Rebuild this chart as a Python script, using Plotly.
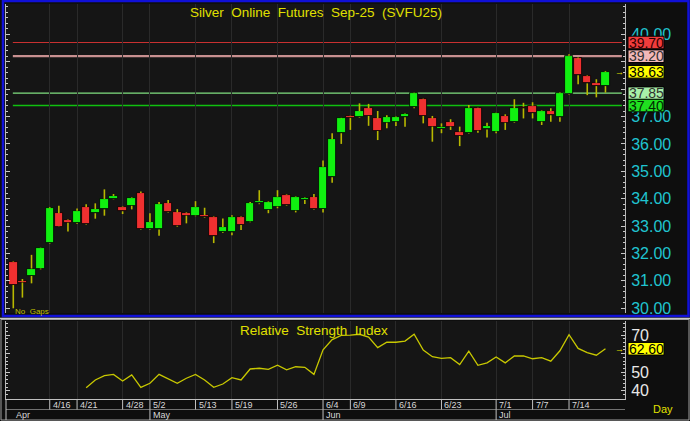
import plotly.graph_objects as go

W, H = 690, 421

# ---------------- data ----------------
open_ = [31.70, 30.98, 31.18, 31.45, 32.37, 33.47, 33.22, 33.10, 33.70, 33.47,
         33.61, 33.98, 33.70, 33.74, 34.21, 32.88, 32.88, 33.83, 33.50, 33.47,
         33.38, 33.40, 33.33, 32.78, 32.77, 33.34, 33.16, 33.83, 33.59, 33.71,
         34.14, 33.56, 33.95, 34.05, 33.62, 34.78, 36.39, 37.01, 36.97, 37.30,
         36.93, 36.77, 36.81, 36.97, 37.34, 37.63, 36.93, 36.54, 36.79, 36.45,
         36.39, 37.30, 36.53, 36.45, 37.02, 36.79, 37.36, 37.39, 36.81, 37.20,
         36.97, 37.81, 39.12, 38.48, 38.23, 38.11]
high = [31.72, 31.07, 31.95, 32.22, 33.69, 33.74, 33.24, 33.64, 33.80, 33.83,
        34.34, 34.17, 33.72, 34.06, 34.26, 33.47, 33.88, 33.95, 33.62, 33.50,
        33.91, 33.67, 33.35, 33.28, 33.40, 33.36, 33.88, 34.31, 33.90, 34.31,
        34.16, 34.08, 34.05, 34.17, 35.39, 36.39, 36.95, 37.03, 37.48, 37.46,
        37.20, 37.05, 37.00, 37.11, 37.87, 37.65, 37.02, 36.75, 36.90, 36.63,
        37.42, 37.32, 36.77, 37.14, 37.08, 37.63, 37.50, 37.52, 37.23, 37.30,
        37.88, 39.27, 39.15, 38.50, 38.36, 38.66]
low = [30.00, 30.39, 30.91, 31.42, 32.35, 32.97, 32.80, 33.08, 33.06, 33.27,
       33.38, 33.97, 33.44, 33.61, 32.86, 32.86, 32.65, 33.50, 32.98, 33.10,
       33.36, 33.30, 32.38, 32.76, 32.67, 32.86, 33.14, 33.80, 33.47, 33.65,
       33.75, 33.50, 33.81, 33.59, 33.50, 34.58, 36.00, 36.51, 36.95, 36.66,
       36.14, 36.57, 36.65, 36.63, 37.30, 36.75, 36.08, 36.39, 36.51, 35.92,
       36.37, 36.41, 36.23, 36.39, 36.51, 36.77, 36.93, 36.93, 36.69, 36.81,
       36.81, 37.79, 38.18, 37.78, 37.70, 37.87]
close = [30.85, 30.94, 31.45, 32.21, 33.65, 32.98, 33.12, 33.56, 33.08, 33.62,
         33.99, 34.10, 33.54, 34.04, 32.88, 33.15, 33.81, 33.51, 33.01, 33.38,
         33.70, 33.32, 32.63, 32.97, 33.34, 33.04, 33.83, 33.92, 33.87, 34.07,
         33.77, 34.06, 34.03, 33.61, 35.17, 36.17, 36.93, 36.95, 37.19, 37.02,
         36.47, 36.97, 36.97, 37.09, 37.85, 37.02, 36.63, 36.63, 36.63, 36.29,
         37.32, 36.48, 36.65, 37.12, 36.77, 37.30, 37.30, 37.12, 37.21, 37.05,
         37.85, 39.22, 38.51, 38.21, 38.11, 38.63]

rsi_start = 8
rsi = [41.6, 45.8, 48.1, 48.8, 45.2, 48.5, 41.8, 44.0, 48.8, 46.3,
       44.0, 46.7, 48.8, 45.8, 41.8, 43.6, 47.0, 45.8, 51.7, 52.1,
       51.5, 53.7, 51.2, 52.9, 52.6, 48.8, 62.0, 67.5, 69.8, 69.9,
       70.4, 68.9, 63.2, 66.1, 66.1, 66.7, 70.4, 61.9, 58.3, 57.4,
       57.8, 54.1, 61.3, 53.7, 55.0, 58.2, 55.0, 58.7, 58.7, 57.2,
       57.8, 55.9, 61.5, 70.2, 62.8, 60.5, 59.1, 62.6]

level_values = [39.70, 39.20, 37.85, 37.40]
last_price = 38.63
last_rsi = 62.60

date_idx = [4, 7, 12, 15, 20, 24, 29, 34, 37, 42, 47, 53, 57, 61]
date_labels = ['4/16', '4/21', '4/28', '5/2', '5/13', '5/19', '5/26',
               '6/4', '6/9', '6/16', '6/23', '7/1', '7/7', '7/14']
month_idx = [0, 15, 34, 53]
month_labels = ['Apr', 'May', 'Jun', 'Jul']
price_ticks = [30, 31, 32, 33, 34, 35, 36, 37, 38, 39, 40]
price_tick_text = ['30.00', '31.00', '32.00', '33.00', '34.00', '35.00', '36.00',
                   '37.00', '', '', '40.00']   # 38/39 hidden behind level boxes
price_grid = [30, 32, 34, 36, 38, 40]
rsi_ticks = [40, 50, 60, 70]
rsi_tick_text = ['40', '50', '', '70']         # 60 hidden behind last-value box
rsi_grid = [60]

title_text = 'Silver\u00a0 Online\u00a0 Futures\u00a0 Sep-25\u00a0 (SVFU25)'
rsi_title = 'Relative\u00a0 Strength\u00a0 Index'

# ---------------- styles ----------------
FONT = 'Liberation Sans, Arial, sans-serif'
UP = '#10f010'
DOWN = '#f03030'
WICK = '#b8b800'
GRID = '#2a2a2a'
CYAN = '#20c4d0'
YEL = '#e0e000'
level_styles = [
    dict(line='#c83030', width=1.2, bg='#f03c3c', fg='#300000'),
    dict(line='#c89090', width=2.2, bg='#f2b8b8', fg='#303030'),
    dict(line='#80e080', width=1.2, bg='#a8f0a8', fg='#303030'),
    dict(line='#10c010', width=1.6, bg='#20e020', fg='#002800'),
]
PRICE_PX = 27.4      # pixels per price unit
RSI_PX = 1.857       # pixels per RSI unit
BOX_H = 12.6         # label box height in pixels


def px(x):
    return x / W


def py(y):
    return 1 - y / H


x = list(range(len(open_)))
X_RANGE = [-0.801, 67.145]

# wicks (drawn outside the bodies)
wx, wy = [], []
for i, (o, h, l, c) in enumerate(zip(open_, high, low, close)):
    top, bot = max(o, c), min(o, c)
    wx += [i, i, None, i, i, None]
    wy += [bot, l, None, top, h, None]

base = [min(o, c) for o, c in zip(open_, close)]
body = [max(abs(c - o), 0.03) for o, c in zip(open_, close)]
colors = [UP if c >= o else DOWN for o, c in zip(open_, close)]

fig = go.Figure()
fig.add_trace(go.Scatter(x=wx, y=wy, mode='lines', line=dict(color=WICK, width=1.6),
                         hoverinfo='skip', showlegend=False, xaxis='x', yaxis='y'))
fig.add_trace(go.Bar(x=x, y=body, base=base, width=0.93,
                     marker=dict(color=colors, line=dict(color='#000000', width=0.8)),
                     showlegend=False, xaxis='x', yaxis='y'))
fig.add_trace(go.Scatter(x=list(range(rsi_start, rsi_start + len(rsi))), y=rsi,
                         mode='lines', line=dict(color='#c8c800', width=1.3),
                         showlegend=False, xaxis='x2', yaxis='y2'))

shapes = []
# level lines
for v, st in zip(level_values, level_styles):
    shapes.append(dict(type='line', xref='x', yref='y', x0=-0.05, x1=66.8, y0=v, y1=v,
                       line=dict(color=st['line'], width=st['width']), layer='below'))
# frames
shapes.append(dict(type='rect', xref='paper', yref='paper', x0=px(3), x1=px(688.5),
                   y0=py(316), y1=py(1), line=dict(color='#1010d8', width=2.5)))
shapes.append(dict(type='line', xref='paper', yref='paper', x0=px(0), x1=px(690),
                   y0=py(318.5), y1=py(318.5), line=dict(color='#c8c8c8', width=1.5)))
shapes.append(dict(type='rect', xref='paper', yref='paper', x0=px(1), x1=px(689),
                   y0=py(420), y1=py(319.5), line=dict(color='#a0a0a0', width=1)))
# date rows
shapes.append(dict(type='line', xref='paper', yref='paper', x0=px(6), x1=px(625),
                   y0=py(409.5), y1=py(409.5), line=dict(color='#707070', width=1)))
for d in date_idx:
    shapes.append(dict(type='line', xref='x', yref='paper', x0=d, x1=d,
                       y0=py(409.5), y1=py(399), line=dict(color='#c0c0c0', width=1)))
for m in month_idx[1:]:
    shapes.append(dict(type='line', xref='x', yref='paper', x0=m, x1=m,
                       y0=py(420), y1=py(409.5), line=dict(color='#c0c0c0', width=1)))
shapes.append(dict(type='line', xref='paper', yref='paper', x0=px(6), x1=px(6),
                   y0=py(420), y1=py(399), line=dict(color='#c0c0c0', width=1)))


def value_box(v, yref, unit_px, bg):
    half = BOX_H / 2 / unit_px
    return dict(type='rect', xref='paper', x0=px(628), x1=px(664), yref=yref,
                y0=v - half, y1=v + half, fillcolor=bg,
                line=dict(color='#000000', width=1), layer='above')


for v, st in zip(level_values, level_styles):
    shapes.append(value_box(v, 'y', PRICE_PX, st['bg']))
shapes.append(value_box(last_price, 'y', PRICE_PX, '#ffff00'))
shapes.append(value_box(last_rsi, 'y2', RSI_PX, '#ffff00'))


def note(text, xref, x, yref, y, size, color, xanchor='center', **kw):
    d = dict(text=text, xref=xref, x=x, yref=yref, y=y, xanchor=xanchor, yanchor='middle',
             showarrow=False, font=dict(family=FONT, size=size, color=color))
    d.update(kw)
    return d


ann = []
ann.append(note(title_text, 'paper', px(315.5), 'paper', py(13), 13.5, YEL))
ann.append(note(rsi_title, 'paper', px(314), 'paper', py(330), 13.5, YEL))
ann.append(note('No\u00a0 Gaps', 'paper', px(13), 'paper', py(311.5), 8, '#c0c000', 'left'))
ann.append(note('Day', 'paper', px(663), 'paper', py(409), 11, YEL))
for v, st in zip(level_values, level_styles):
    ann.append(note('%.2f' % v, 'paper', px(646), 'y', v, 14, st['fg'], height=12, width=35))
ann.append(note('%.2f' % last_price, 'paper', px(646), 'y', last_price, 14, '#000000',
                height=12, width=35))
ann.append(note('→', 'paper', px(619), 'y', last_price, 9, YEL))
ann.append(note('%.2f' % last_rsi, 'paper', px(646), 'y2', last_rsi, 14, '#000000',
                height=12, width=35))
ann.append(note('→', 'paper', px(619), 'y2', last_rsi, 9, YEL))
for d, lab in zip(date_idx, date_labels):
    ann.append(note(lab, 'x', d, 'paper', py(404.5), 9, '#d8d8d8', 'left', xshift=1))
for m, lab in zip(month_idx, month_labels):
    ann.append(note(lab, 'x', m, 'paper', py(415), 9, '#d8d8d8', 'left', xshift=1))

common_x = dict(range=X_RANGE, domain=[px(6), px(625)], tickvals=date_idx,
                showticklabels=False, ticks='', showgrid=True, gridcolor=GRID,
                gridwidth=1, zeroline=False, fixedrange=True)

fig.update_layout(
    width=W, height=H, margin=dict(l=0, r=0, t=0, b=0, pad=0),
    paper_bgcolor='#0e0e0e', plot_bgcolor='#151515',
    font=dict(family=FONT), showlegend=False, bargap=0,
    xaxis=dict(anchor='y', showline=False, **common_x),
    xaxis2=dict(anchor='y2', matches='x', showline=True, linecolor='#c0c0c0',
                linewidth=1, **common_x),
    yaxis=dict(domain=[py(313), py(4)], range=[29.828, 41.106], side='right', anchor='x',
               tickvals=price_ticks, ticktext=price_tick_text,
               tickfont=dict(family=FONT, size=16, color=CYAN),
               ticks='inside', ticklen=4, tickcolor='#c8c8c8', ticklabelstandoff=2,
               showline=True, linecolor='#b8b8b8', linewidth=1, mirror='ticks',
               showgrid=False, zeroline=False, fixedrange=True, automargin=False,
               minor=dict(dtick=0.2, ticks='inside', ticklen=2, tickcolor='#c8c8c8')),
    yaxis3=dict(overlaying='y', anchor='x', side='right', range=[29.828, 41.106],
                tickvals=price_grid, showticklabels=False, ticks='', showgrid=True,
                gridcolor=GRID, showline=False, zeroline=False, fixedrange=True),
    yaxis2=dict(domain=[py(399), py(321)], range=[35.54, 77.54], side='right', anchor='x2',
                tickvals=rsi_ticks, ticktext=rsi_tick_text,
                tickfont=dict(family=FONT, size=16, color='#e8e8e8'),
                ticks='inside', ticklen=4, tickcolor='#c8c8c8', ticklabelstandoff=2,
                showline=True, linecolor='#b8b8b8', linewidth=1, mirror='ticks',
                showgrid=False, zeroline=False, fixedrange=True, automargin=False,
                minor=dict(dtick=2, ticks='inside', ticklen=2, tickcolor='#c8c8c8')),
    yaxis4=dict(overlaying='y2', anchor='x2', side='right', range=[35.54, 77.54],
                tickvals=rsi_grid, showticklabels=False, ticks='', showgrid=True,
                gridcolor=GRID, showline=False, zeroline=False, fixedrange=True),
    shapes=shapes, annotations=ann,
)

fig.write_html('out.html', config={'displayModeBar': False},
               post_script="document.body.style.margin='0';document.body.style.padding='0';")
